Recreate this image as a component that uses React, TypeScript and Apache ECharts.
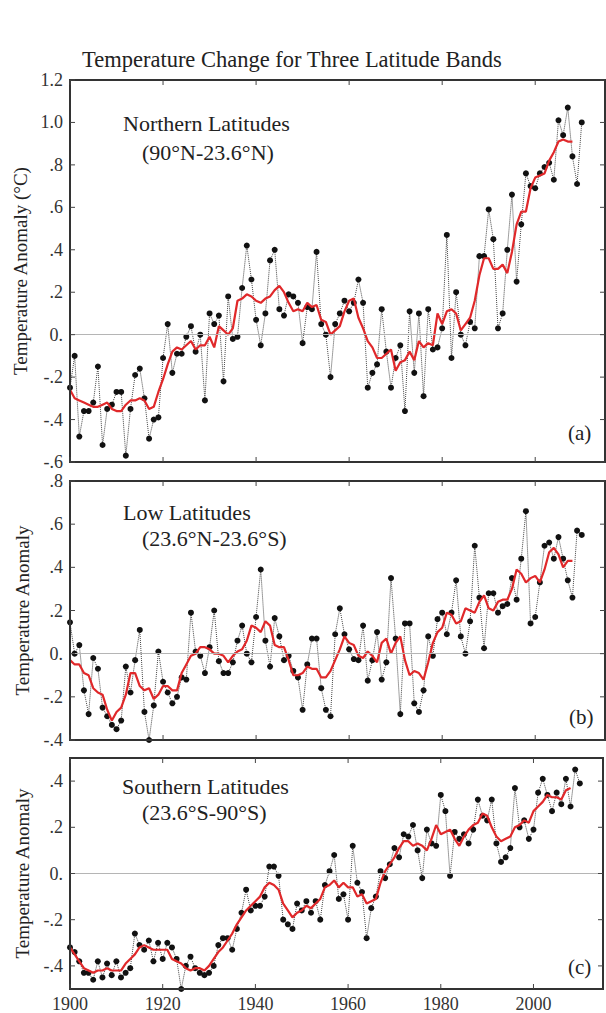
import React, { useEffect, useRef } from "react";
import * as echarts from "echarts";

const START_YEAR = 1900;

// Annual anomalies (°C), 1900..2010
const northAnnual = [
  -0.25, -0.10, -0.48, -0.36, -0.36, -0.32, -0.15, -0.52, -0.35, -0.33,
  -0.27, -0.27, -0.57, -0.35, -0.19, -0.16, -0.30, -0.49, -0.40, -0.39,
  -0.11, 0.05, -0.18, -0.09, -0.09, -0.01, 0.04, -0.08, 0.00, -0.31,
  0.10, 0.05, 0.09, -0.22, 0.18, -0.02, -0.01, 0.22, 0.42, 0.26,
  0.07, -0.05, 0.10, 0.35, 0.40, 0.12, 0.09, 0.19, 0.18, 0.15,
  -0.04, 0.13, 0.12, 0.39, 0.05, 0.00, -0.20, 0.05, 0.10, 0.16,
  0.11, 0.15, 0.26, 0.15, -0.25, -0.18, -0.14, 0.12, -0.08, -0.25,
  -0.11, -0.05, -0.36, 0.11, -0.18, 0.10, -0.29, 0.12, -0.07, -0.06,
  0.03, 0.47, -0.11, 0.20, 0.00, -0.05, 0.06, 0.03, 0.37, 0.37,
  0.59, 0.45, 0.03, 0.10, 0.40, 0.66, 0.25, 0.52, 0.76, 0.70,
  0.69, 0.76, 0.79, 0.81, 0.73, 1.01, 0.94, 1.07, 0.84, 0.71,
  1.00,
];

const lowAnnual = [
  0.145, 0.00, 0.04, -0.17, -0.28, -0.02, -0.07, -0.25, -0.29, -0.33,
  -0.35, -0.31, -0.06, -0.18, -0.03, 0.11, -0.27, -0.40, -0.24, 0.01,
  -0.13, -0.18, -0.23, -0.20, -0.11, -0.12, 0.19, 0.01, -0.01, -0.09,
  0.03, 0.20, -0.035, -0.09, -0.09, -0.04, 0.06, 0.13, 0.00, -0.04,
  0.17, 0.39, 0.06, -0.06, 0.165, 0.08, -0.03, -0.01, -0.08, -0.11,
  -0.26, -0.05, 0.07, 0.07, -0.16, -0.26, -0.29, 0.09, 0.21, 0.09,
  0.02, -0.025, -0.03, 0.13, -0.125, -0.03, 0.10, -0.12, -0.04, 0.35,
  0.07, -0.28, 0.14, 0.14, -0.23, -0.27, -0.17, 0.08, -0.01, 0.16,
  0.19, 0.09, 0.19, 0.34, 0.08, 0.00, 0.15, 0.50, 0.26, 0.025,
  0.28, 0.28, 0.19, 0.22, 0.23, 0.35, 0.25, 0.44, 0.66, 0.14,
  0.17, 0.33, 0.50, 0.515, 0.44, 0.54, 0.44, 0.34, 0.26, 0.57,
  0.55,
];

const southAnnual = [
  -0.32, -0.34, -0.38, -0.43, -0.43, -0.46, -0.38, -0.45, -0.39, -0.44,
  -0.38, -0.45, -0.43, -0.41, -0.26, -0.31, -0.33, -0.29, -0.38, -0.30,
  -0.37, -0.30, -0.32, -0.37, -0.50, -0.40, -0.36, -0.41, -0.43, -0.44,
  -0.43, -0.40, -0.31, -0.28, -0.28, -0.33, -0.24, -0.17, -0.07, -0.16,
  -0.14, -0.14, -0.10, 0.03, 0.03, -0.01, -0.20, -0.22, -0.24, -0.13,
  -0.16, -0.12, -0.17, -0.12, -0.20, -0.05, 0.01, 0.08, -0.11, -0.09,
  -0.20, 0.12, -0.04, -0.08, -0.28, -0.15, -0.10, 0.01, -0.02, 0.04,
  0.11, 0.07, 0.17, 0.16, 0.21, 0.10, -0.02, 0.19, 0.13, 0.12,
  0.34, 0.27, -0.01, 0.18, 0.15, 0.17, 0.13, 0.19, 0.32, 0.25,
  0.23, 0.32, 0.13, 0.05, 0.07, 0.11, 0.37, 0.20, 0.23, 0.15,
  0.19, 0.35, 0.41, 0.34, 0.27, 0.35, 0.30, 0.41, 0.29, 0.45,
  0.39,
];

// 5-year running means (red curves), 1900..2008
const northMean = [
  -0.26, -0.30, -0.31, -0.32, -0.33, -0.34, -0.34, -0.33, -0.32, -0.35,
  -0.36, -0.36, -0.33, -0.31, -0.31, -0.30, -0.31, -0.35, -0.34, -0.27,
  -0.21, -0.14, -0.08, -0.06, -0.07, -0.05, -0.03, -0.07, -0.05, -0.05,
  -0.01, -0.06, 0.04, 0.02, 0.00, 0.03, 0.16, 0.17, 0.19, 0.18,
  0.16, 0.15, 0.17, 0.18, 0.21, 0.23, 0.20, 0.15, 0.11, 0.12,
  0.11, 0.15, 0.13, 0.14, 0.07, 0.06, 0.00, 0.02, 0.04, 0.11,
  0.16, 0.17, 0.08, 0.03, -0.03, -0.06, -0.11, -0.11, -0.09, -0.07,
  -0.17, -0.13, -0.12, -0.08, -0.12, -0.03, -0.06, -0.04, -0.05, 0.10,
  0.05, 0.11, 0.12, 0.10, 0.02, 0.05, 0.08, 0.16, 0.28, 0.36,
  0.36, 0.31, 0.31, 0.33, 0.29, 0.39, 0.52, 0.58, 0.58, 0.69,
  0.74, 0.75, 0.76, 0.82, 0.86, 0.91, 0.92, 0.91, 0.91,
];

const lowMean = [
  -0.03, -0.05, -0.05, -0.09, -0.10, -0.16, -0.18, -0.19, -0.26, -0.31,
  -0.27, -0.25, -0.19, -0.09, -0.09, -0.15, -0.17, -0.16, -0.21, -0.19,
  -0.15, -0.15, -0.17, -0.17, -0.09, -0.05, -0.01, 0.00, 0.03, 0.03,
  0.02, 0.00, 0.00, -0.01, -0.04, -0.01, 0.01, 0.02, 0.06, 0.13,
  0.12, 0.10, 0.15, 0.13, 0.04, 0.03, 0.03, -0.03, -0.10, -0.10,
  -0.09, -0.06, -0.07, -0.07, -0.11, -0.11, -0.08, -0.03, 0.02, 0.08,
  0.05, 0.04, -0.01, -0.02, 0.01, -0.01, -0.04, 0.05, 0.07, 0.00,
  0.05, 0.08, -0.03, -0.10, -0.08, -0.09, -0.12, -0.04, 0.05, 0.10,
  0.12, 0.19, 0.18, 0.14, 0.15, 0.21, 0.20, 0.19, 0.24, 0.27,
  0.21, 0.20, 0.24, 0.25, 0.25, 0.30, 0.39, 0.37, 0.33, 0.35,
  0.36, 0.33, 0.39, 0.47, 0.49, 0.46, 0.40, 0.43, 0.43,
];

const southMean = [
  -0.32, -0.35, -0.38, -0.41, -0.42, -0.43, -0.42, -0.42, -0.41, -0.42,
  -0.42, -0.42, -0.39, -0.37, -0.35, -0.32, -0.31, -0.32, -0.33, -0.33,
  -0.33, -0.33, -0.37, -0.38, -0.39, -0.41, -0.42, -0.41, -0.41, -0.42,
  -0.40, -0.37, -0.34, -0.32, -0.29, -0.26, -0.22, -0.19, -0.16, -0.14,
  -0.12, -0.10, -0.06, -0.04, -0.05, -0.07, -0.13, -0.16, -0.19, -0.17,
  -0.16, -0.14, -0.15, -0.13, -0.11, -0.06, -0.05, -0.03, -0.06, -0.04,
  -0.06, -0.06, -0.10, -0.09, -0.13, -0.12, -0.11, -0.04, 0.01, 0.04,
  0.07, 0.11, 0.14, 0.14, 0.12, 0.13, 0.12, 0.10, 0.15, 0.21,
  0.17, 0.18, 0.19, 0.15, 0.12, 0.16, 0.19, 0.21, 0.22, 0.26,
  0.25, 0.20, 0.16, 0.14, 0.15, 0.16, 0.20, 0.21, 0.23, 0.22,
  0.27, 0.29, 0.31, 0.34, 0.33, 0.33, 0.32, 0.36, 0.37,
];

const X_MIN = 1900;
const X_MAX = 2015;
const xTickYears = [1900, 1920, 1940, 1960, 1980, 2000];
const northTicks = [-0.6, -0.4, -0.2, 0, 0.2, 0.4, 0.6, 0.8, 1.0, 1.2];
const lowTicks = [-0.4, -0.2, 0, 0.2, 0.4, 0.6, 0.8];
const southTicks = [-0.4, -0.2, 0, 0.2, 0.4];

const panelTitles = ["Northern Latitudes", "Low Latitudes", "Southern Latitudes"];
const panelRanges = ["(90°N-23.6°N)", "(23.6°N-23.6°S)", "(23.6°S-90°S)"];
const panelLetters = ["(a)", "(b)", "(c)"];
const yNames = ["Temperature Anomaly (°C)", "Temperature Anomaly", "Temperature Anomaly"];
const chartTitle = "Temperature Change for Three Latitude Bands";

const SERIF = "Liberation Serif";

function fmtTick(v: number): string {
  const t = Math.round(v * 10);
  if (t % 2 !== 0) return "";
  const r = t / 10;
  if (t === 0) return "0.";
  const a = Math.abs(r);
  const s = a >= 1 ? a.toFixed(1) : a.toFixed(1).replace(/^0/, "");
  return (r < 0 ? "-" : "") + s;
}

const fmtYear = (v: number) => (xTickYears.indexOf(Math.round(v)) >= 0 ? String(Math.round(v)) : "");

const pairs = (arr: number[]) => arr.map((v, i) => [START_YEAR + i, v]);

export default function App() {
  const ref = useRef<HTMLDivElement>(null);

  useEffect(() => {
    if (!ref.current) return;
    const chart = echarts.init(ref.current, null, { renderer: "svg" });

    const grids = [
      { left: 70, top: 80, width: 535, height: 382 },
      { left: 70, top: 481, width: 535, height: 259 },
      { left: 70, top: 758, width: 535, height: 232 },
    ];
    const yRanges = [
      { min: -0.6, max: 1.2, interval: 0.2, ticks: northTicks },
      { min: -0.4, max: 0.8, interval: 0.2, ticks: lowTicks },
      { min: -0.5, max: 0.5, interval: 0.1, ticks: southTicks },
    ];
    const annual = [northAnnual, lowAnnual, southAnnual];
    const means = [northMean, lowMean, southMean];

    const xAxis: any[] = [];
    const yAxis: any[] = [];
    const series: any[] = [];

    grids.forEach((_, g) => {
      xAxis.push({
        type: "value",
        gridIndex: g,
        position: "bottom",
        min: X_MIN,
        max: X_MAX,
        interval: 20,
        axisLine: { show: false },
        axisTick: { show: false },
        splitLine: { show: false },
        axisLabel: {
          show: g === 2,
          color: "#333",
          fontFamily: SERIF,
          fontSize: 18,
          margin: 6,
          formatter: fmtYear,
        },
      });
      const yr = yRanges[g];
      yAxis.push({
        type: "value",
        gridIndex: g,
        position: "left",
        min: yr.min,
        max: yr.max,
        interval: yr.interval,
        axisLine: { show: false },
        axisTick: { show: false },
        splitLine: { show: false },
        name: yNames[g],
        nameLocation: "middle",
        nameRotate: 90,
        nameGap: 38,
        nameTextStyle: { color: "#222", fontFamily: SERIF, fontSize: 19 },
        axisLabel: {
          show: true,
          color: "#333",
          fontFamily: SERIF,
          fontSize: 18,
          margin: 7,
          formatter: fmtTick,
        },
      });

      // Panel frame with inward ticks, placed through the axes' scales
      series.push({
        type: "custom",
        xAxisIndex: g,
        yAxisIndex: g,
        silent: true,
        clip: false,
        z: 6,
        data: [[X_MIN, yr.min]],
        renderItem: (params: any, api: any) => {
          const tl = api.coord([X_MIN, yr.max]);
          const br = api.coord([X_MAX, yr.min]);
          const L = tl[0];
          const T = tl[1];
          const R = br[0];
          const B = br[1];
          const tickStyle = { stroke: "#444", lineWidth: 1 };
          const children: any[] = [
            {
              type: "rect",
              shape: { x: L, y: T, width: R - L, height: B - T },
              style: { fill: "rgba(0,0,0,0)", stroke: "#333", lineWidth: 2 },
            },
          ];
          xTickYears.forEach((year) => {
            const px = api.coord([year, yr.min])[0];
            children.push({ type: "line", shape: { x1: px, y1: B, x2: px, y2: B - 5 }, style: tickStyle });
            children.push({ type: "line", shape: { x1: px, y1: T, x2: px, y2: T + 5 }, style: tickStyle });
          });
          yr.ticks.forEach((v) => {
            const py = api.coord([X_MIN, v])[1];
            children.push({ type: "line", shape: { x1: L, y1: py, x2: L + 5, y2: py }, style: tickStyle });
            children.push({ type: "line", shape: { x1: R, y1: py, x2: R - 5, y2: py }, style: tickStyle });
          });
          return { type: "group", children };
        },
      });

      series.push({
        type: "line",
        xAxisIndex: g,
        yAxisIndex: g,
        data: pairs(annual[g]),
        symbol: "circle",
        symbolSize: 6,
        showSymbol: true,
        itemStyle: { color: "#111" },
        lineStyle: { color: "#444", width: 1, type: "dotted" },
        z: 3,
        markLine: {
          silent: true,
          symbol: ["none", "none"],
          label: { show: false },
          lineStyle: { color: "#b5b5b5", width: 1, type: "solid" },
          data: [{ yAxis: 0 }],
        },
      });
      series.push({
        type: "line",
        xAxisIndex: g,
        yAxisIndex: g,
        data: pairs(means[g]),
        symbol: "none",
        lineStyle: { color: "#e0282a", width: 2.2 },
        z: 4,
      });
    });

    const ttl = (text: string, left: number, top: number, size: number) => ({
      text,
      left,
      top,
      padding: 0,
      textStyle: { color: "#222", fontFamily: SERIF, fontSize: size, fontWeight: "normal" },
    });

    const title = [
      ttl(chartTitle, 82, 48, 22.5),
      ttl(panelTitles[0], 123, 112, 22),
      ttl(panelRanges[0], 142, 141, 22),
      ttl(panelLetters[0], 568, 422, 21),
      ttl(panelTitles[1], 123, 501, 22),
      ttl(panelRanges[1], 142, 527, 22),
      ttl(panelLetters[1], 569, 706, 21),
      ttl(panelTitles[2], 122, 775, 22),
      ttl(panelRanges[2], 142, 801, 22),
      ttl(panelLetters[2], 568, 956, 21),
    ];

    chart.setOption({
      animation: false,
      title,
      grid: grids,
      xAxis,
      yAxis,
      series,
    });

    return () => chart.dispose();
  }, []);

  return <div ref={ref} style={{ position: "absolute", left: 0, top: 0, width: 606, height: 1013 }} />;
}
